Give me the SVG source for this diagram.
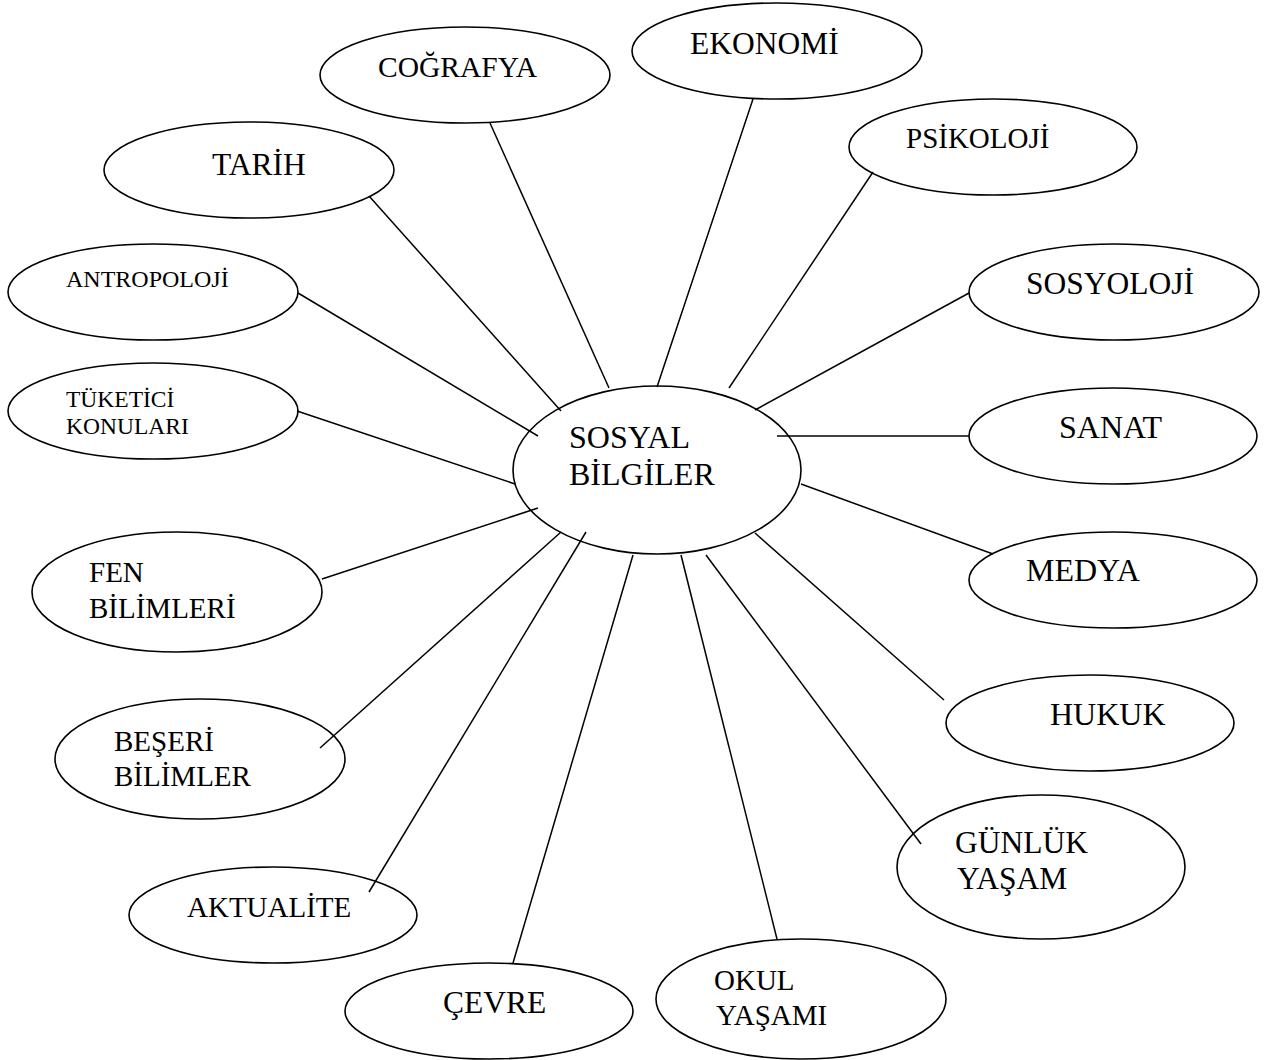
<svg xmlns="http://www.w3.org/2000/svg" width="1268" height="1060" viewBox="0 0 1268 1060">
<style>
ellipse{fill:none;stroke:#000;stroke-width:1.6}
line{stroke:#000;stroke-width:1.5}
text{font-family:"Liberation Serif","Times New Roman",serif;fill:#000}
</style>
<rect width="1268" height="1060" fill="#fff"/>
<g id="center"><ellipse cx="657" cy="470" rx="144" ry="84"/><text x="569" y="448" font-size="32">SOSYAL</text><text x="569" y="485" font-size="32">BİLGİLER</text></g>
<g id="cografya"><ellipse cx="465" cy="75" rx="145" ry="48"/><text x="378" y="77" font-size="29.5">COĞRAFYA</text></g>
<g id="ekonomi"><ellipse cx="777" cy="51" rx="145" ry="48"/><text x="690" y="54" font-size="31.5">EKONOMİ</text></g>
<g id="psikoloji"><ellipse cx="993" cy="147" rx="144" ry="48"/><text x="906" y="148" font-size="29">PSİKOLOJİ</text></g>
<g id="tarih"><ellipse cx="249" cy="170" rx="145" ry="48"/><text x="212" y="175" font-size="31.5">TARİH</text></g>
<g id="antropoloji"><ellipse cx="153" cy="292" rx="145" ry="48"/><text x="66" y="287" font-size="24">ANTROPOLOJİ</text></g>
<g id="sosyoloji"><ellipse cx="1114" cy="292" rx="145" ry="48"/><text x="1026" y="294" font-size="31.5">SOSYOLOJİ</text></g>
<g id="tuketici"><ellipse cx="153" cy="411" rx="145" ry="48"/><text x="66" y="407" font-size="23.5">TÜKETİCİ</text><text x="66" y="434" font-size="23.5">KONULARI</text></g>
<g id="sanat"><ellipse cx="1113" cy="436" rx="144" ry="48"/><text x="1059" y="438" font-size="32">SANAT</text></g>
<g id="medya"><ellipse cx="1113" cy="580" rx="144" ry="48"/><text x="1026" y="581" font-size="32">MEDYA</text></g>
<g id="fen"><ellipse cx="177" cy="592" rx="145" ry="60"/><text x="89" y="582" font-size="29">FEN</text><text x="89" y="618" font-size="29">BİLİMLERİ</text></g>
<g id="hukuk"><ellipse cx="1090" cy="723" rx="144" ry="48"/><text x="1050" y="725" font-size="32">HUKUK</text></g>
<g id="beseri"><ellipse cx="200" cy="759" rx="145" ry="60"/><text x="114" y="751" font-size="29">BEŞERİ</text><text x="114" y="786" font-size="29">BİLİMLER</text></g>
<g id="gunluk"><ellipse cx="1041" cy="867" rx="144" ry="72"/><text x="955" y="853" font-size="31.5">GÜNLÜK</text><text x="957" y="889" font-size="31.5">YAŞAM</text></g>
<g id="aktualite"><ellipse cx="273" cy="915" rx="144" ry="48"/><text x="187" y="917" font-size="29">AKTUALİTE</text></g>
<g id="cevre"><ellipse cx="489" cy="1011" rx="144" ry="48"/><text x="443" y="1013" font-size="31.5">ÇEVRE</text></g>
<g id="okul"><ellipse cx="801" cy="999" rx="145" ry="60"/><text x="714" y="990" font-size="29">OKUL</text><text x="716" y="1025" font-size="29">YAŞAMI</text></g>
<g id="connectors">
<line x1="490" y1="123" x2="609" y2="388"/>
<line x1="369" y1="196" x2="561" y2="411"/>
<line x1="298" y1="293" x2="538" y2="436"/>
<line x1="297" y1="411" x2="515" y2="484"/>
<line x1="322" y1="579" x2="538" y2="508"/>
<line x1="561" y1="532" x2="320" y2="748"/>
<line x1="586" y1="532" x2="369" y2="892"/>
<line x1="633" y1="555" x2="513" y2="963"/>
<line x1="681" y1="555" x2="777" y2="939"/>
<line x1="706" y1="555" x2="921" y2="844"/>
<line x1="755" y1="533" x2="944" y2="700"/>
<line x1="801" y1="484" x2="993" y2="554"/>
<line x1="777" y1="436" x2="969" y2="436"/>
<line x1="755" y1="410" x2="969" y2="293"/>
<line x1="729" y1="388" x2="873" y2="172"/>
<line x1="657" y1="387" x2="753" y2="99"/>
</g>
</svg>
